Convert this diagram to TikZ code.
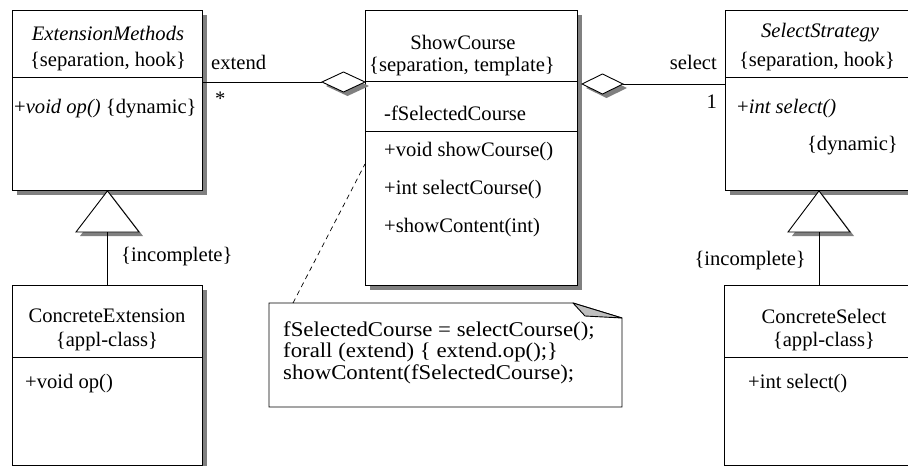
\documentclass[tikz,border=0pt]{standalone}
\usepackage{fontspec}
\setmainfont{Liberation Serif}
\usetikzlibrary{shadows,calc}
\tikzset{
  umlbox/.style={draw, fill=white, rectangle, inner sep=0pt, anchor=north west, line width=0.9pt,
    drop shadow={shadow xshift=5pt, shadow yshift=-5pt, opacity=1, fill=black!50}},
  shadowed/.style={fill=white, line width=0.9pt,
    drop shadow={shadow xshift=4pt, shadow yshift=-4pt, opacity=1, fill=black!50}},
  txt/.style={inner sep=0pt, font=\fontsize{20.6}{22}\selectfont},
  ltxt/.style={txt, anchor=west},
  sep/.style={line width=0.9pt},
  conn/.style={line width=0.9pt},
}
\begin{document}
\begin{tikzpicture}[x=1pt,y=-1pt]
\useasboundingbox (0,0) rectangle (908,466);
% boxes
\node[umlbox, minimum width=190pt, minimum height=180pt] (em) at (12,10) {};
\node[umlbox, minimum width=190pt, minimum height=180pt] (ce) at (12,285) {};
\node[umlbox, minimum width=212pt, minimum height=275pt] (sc) at (365,10) {};
\node[umlbox, minimum width=200pt, minimum height=180pt] (ss) at (725,10) {};
\node[umlbox, minimum width=200pt, minimum height=180pt] (cs) at (724,285) {};
% dividers
\draw[sep] (12,77) -- (202,77);
\draw[sep] (12,357) -- (202,357);
\draw[sep] (365,81) -- (577,81);
\draw[sep] (365,131) -- (577,131);
\draw[sep] (725,77) -- (925,77);
\draw[sep] (724,357) -- (924,357);
% texts ExtensionMethods
\node[txt] (emt) at (108,33) {\itshape ExtensionMethods};
\node[txt] (ems) at (108,62) {\{separation, hook\}};
\node[ltxt] (emo) at (14,109) {+\textit{void op()} \{dynamic\}};
% ConcreteExtension
\node[txt] (cet) at (107,316) {ConcreteExtension};
\node[txt] (ces) at (107,342) {\{appl-class\}};
\node[ltxt] (ceo) at (25,384) {+void op()};
% ShowCourse
\node[txt] (sct) at (463,42) {ShowCourse};
\node[txt] (scs) at (462,67) {\{separation, template\}};
\node[ltxt] (sca) at (384,113) {-fSelectedCourse};
\node[ltxt] (sc1) at (384,152) {+void showCourse()};
\node[ltxt] (sc2) at (384,190) {+int selectCourse()};
\node[ltxt] (sc3) at (384,228) {+showContent(int)};
% SelectStrategy
\node[txt] (sst) at (820,33) {\itshape SelectStrategy};
\node[txt] (sss) at (817,62) {\{separation, hook\}};
\node[ltxt] (sso) at (737,109) {+\textit{int select()}};
\node[txt, anchor=east] (ssd) at (898,146) {\{dynamic\}};
% ConcreteSelect
\node[txt] (cst) at (824,316) {ConcreteSelect};
\node[txt] (css) at (824,342) {\{appl-class\}};
\node[ltxt] (cso) at (748,384) {+int select()};
% generalisation triangles
\coordinate (t1) at (107,232);
\coordinate (t2) at (819,232);
\draw[shadowed] (em.south) -- (139,232) -- (76,232) -- cycle;
\draw[shadowed] (ss.south -| t2) -- (850,232) -- (788,232) -- cycle;
\draw[conn] (t1) -- (ce.north -| t1);
\draw[conn] (t2) -- (cs.north -| t2);
\node[ltxt] (inc1) at (121,257) {\{incomplete\}};
\node[txt, anchor=east] (inc2) at (806,261) {\{incomplete\}};
% aggregation extend
\coordinate (d1) at (322,82);
\draw[shadowed] (d1) -- (343.5,72) -- (365,82) -- (343.5,92) -- cycle;
\draw[conn] (em.east |- d1) -- (d1);
\node[ltxt] (lext) at (211,62) {extend};
\node[ltxt] (lstar) at (215,99) {*};
% aggregation select
\coordinate (d2) at (623,84);
\draw[shadowed] (582,84) -- (602.5,74) -- (d2) -- (602.5,94) -- cycle;
\draw[conn] (d2) -- (ss.west |- d2);
\node[txt, anchor=east] (lsel) at (717,62) {select};
\node[txt, anchor=east] (lone) at (717,102) {1};
% note
\coordinate (na) at (293,303);
\coordinate (nb) at (365,164);
\draw[line width=0.9pt, fill=white] (269,303) -- (573,303) -- (622,318) -- (622,407) -- (269,407) -- cycle;
\draw[line width=0.9pt, fill=black!25, line join=round] (573,303) -- (585,316) -- (622,318) -- cycle;
\node[inner sep=0pt, anchor=north west] (note) at (283,321)
  {\scalebox{1.085}[1]{\fontsize{21}{21.5}\selectfont\begin{tabular}{@{}l@{}}fSelectedCourse = selectCourse();\\forall (extend) \{ extend.op();\}\\showContent(fSelectedCourse);\end{tabular}}};
\draw[conn, dashed, line width=0.7pt, dash pattern=on 5pt off 4pt] (na) -- (nb);
\end{tikzpicture}
\end{document}
